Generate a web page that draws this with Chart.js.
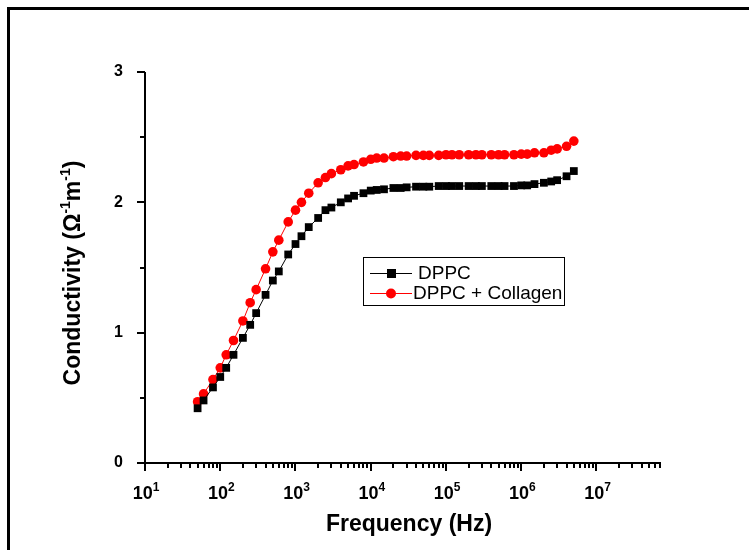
<!DOCTYPE html>
<html>
<head>
<meta charset="utf-8">
<script src="https://cdn.jsdelivr.net/npm/chart.js@4.4.1/dist/chart.umd.min.js"></script>
<style>
  html, body { margin: 0; padding: 0; background: #fff; }
</style>
</head>
<body>
<canvas id="myChart" width="749" height="550"></canvas>
<script>
// frequencies in Hz
const freq = [50, 60, 80,
  100, 120, 150, 200, 250, 300, 400, 500, 600, 800,
  1e3, 1.2e3, 1.5e3, 2e3, 2.5e3, 3e3, 4e3, 5e3, 6e3, 8e3,
  1e4, 1.2e4, 1.5e4, 2e4, 2.5e4, 3e4, 4e4, 5e4, 6e4, 8e4,
  1e5, 1.2e5, 1.5e5, 2e5, 2.5e5, 3e5, 4e5, 5e5, 6e5, 8e5,
  1e6, 1.2e6, 1.5e6, 2e6, 2.5e6, 3e6, 4e6, 5e6];
const dppc = [0.42, 0.48, 0.58,
  0.66, 0.73, 0.83, 0.96, 1.06, 1.15, 1.29, 1.40, 1.47, 1.60,
  1.68, 1.74, 1.81, 1.88, 1.94, 1.96, 2.00, 2.03, 2.05, 2.07,
  2.09, 2.095, 2.10, 2.11, 2.11, 2.115, 2.12, 2.12, 2.12, 2.125,
  2.125, 2.125, 2.125, 2.125, 2.125, 2.125, 2.125, 2.125, 2.125, 2.125,
  2.13, 2.13, 2.14, 2.15, 2.16, 2.17, 2.20, 2.24];
const dppcCollagen = [0.47, 0.53, 0.64,
  0.73, 0.83, 0.94, 1.09, 1.23, 1.33, 1.49, 1.62, 1.71, 1.85,
  1.94, 2.00, 2.07, 2.15, 2.19, 2.22, 2.25, 2.28, 2.29, 2.31,
  2.33, 2.34, 2.34, 2.35, 2.355, 2.355, 2.36, 2.36, 2.36, 2.36,
  2.365, 2.365, 2.365, 2.365, 2.365, 2.365, 2.365, 2.365, 2.365, 2.365,
  2.37, 2.37, 2.38, 2.38, 2.40, 2.41, 2.43, 2.47];
const yTicks = [0, 1, 2, 3];
const yMinor = [0.5, 1.5, 2.5];
const xDecades = [1, 2, 3, 4, 5, 6, 7];
const seriesNames = ['DPPC', 'DPPC + Collagen'];

const FONT = '"Liberation Sans", Arial, sans-serif';

// draws a run of [text, size, raise] pieces starting at x
function drawRuns(ctx, runs, x, y) {
  runs.forEach(r => {
    ctx.font = 'bold ' + r[1] + 'px ' + FONT;
    ctx.fillText(r[0], x, y - r[2]);
    x += ctx.measureText(r[0]).width;
  });
}
function runsWidth(ctx, runs) {
  let w = 0;
  runs.forEach(r => { ctx.font = 'bold ' + r[1] + 'px ' + FONT; w += ctx.measureText(r[0]).width; });
  return w;
}

const axesPlugin = {
  id: 'axesPlugin',
  beforeDatasetsDraw(chart) {
    const { ctx, chartArea: a, scales: { x, y } } = chart;
    ctx.save();
    ctx.strokeStyle = '#000';
    ctx.fillStyle = '#000';
    // outer frame (left and top only visible)
    ctx.lineWidth = 3;
    ctx.beginPath();
    ctx.moveTo(8.5, 550); ctx.lineTo(8.5, 8.5); ctx.lineTo(749, 8.5);
    ctx.stroke();

    ctx.lineWidth = 2;
    const left = Math.round(a.left), bottom = Math.round(a.bottom);
    ctx.beginPath();
    ctx.moveTo(left, a.top); ctx.lineTo(left, bottom);
    ctx.moveTo(left, bottom); ctx.lineTo(a.right, bottom);
    ctx.stroke();

    // y ticks
    ctx.beginPath();
    yTicks.forEach(v => { const py = Math.round(y.getPixelForValue(v)); ctx.moveTo(left - 8, py); ctx.lineTo(left, py); });
    yMinor.forEach(v => { const py = Math.round(y.getPixelForValue(v)); ctx.moveTo(left - 5, py); ctx.lineTo(left, py); });
    ctx.stroke();
    ctx.font = 'bold 16px ' + FONT;
    ctx.textAlign = 'right';
    ctx.textBaseline = 'middle';
    yTicks.forEach(v => ctx.fillText(String(v), left - 22, y.getPixelForValue(v)));

    // x ticks (log)
    ctx.beginPath();
    for (let d = 1; d <= 8; d++) {
      for (let m = 1; m <= 9; m++) {
        const v = m * Math.pow(10, d);
        if (v > x.max) break;
        const px = Math.round(x.getPixelForValue(v));
        ctx.moveTo(px, bottom); ctx.lineTo(px, bottom + (m === 1 ? 8 : 5));
      }
    }
    ctx.stroke();
    ctx.textAlign = 'left';
    ctx.textBaseline = 'alphabetic';
    xDecades.forEach(d => {
      const runs = [['10', 18, 0], [String(d), 12, 8]];
      const w = runsWidth(ctx, runs);
      drawRuns(ctx, runs, x.getPixelForValue(Math.pow(10, d)) - w / 2 + 1, 499);
    });

    // x title
    ctx.font = 'bold 23px ' + FONT;
    ctx.textAlign = 'center';
    ctx.fillText('Frequency (Hz)', 409, 531);

    // y title, rotated
    ctx.save();
    ctx.translate(80, 273);
    ctx.rotate(-Math.PI / 2);
    ctx.textAlign = 'left';
    const yRuns = [['Conductivity (\u03A9', 23, 0], ['-1', 14, 10], ['m', 23, 0], ['-1', 14, 10], [')', 23, 0]];
    drawRuns(ctx, yRuns, -runsWidth(ctx, yRuns) / 2, 0);
    ctx.restore();
    ctx.restore();
  },
  afterDraw(chart) {
    const ctx = chart.ctx;
    ctx.save();
    ctx.strokeStyle = '#000';
    ctx.lineWidth = 1;
    ctx.strokeRect(363.5, 257.5, 201, 48);
    const rows = [
      { y: 273, color: '#000', style: 'rect', textX: 418 },
      { y: 293, color: '#ff0000', style: 'circle', textX: 413 }
    ];
    rows.forEach((r, i) => {
      ctx.strokeStyle = r.color;
      ctx.fillStyle = r.color;
      ctx.beginPath(); ctx.moveTo(370, r.y + 0.5); ctx.lineTo(412, r.y + 0.5); ctx.stroke();
      if (r.style === 'rect') {
        ctx.fillRect(387, r.y - 4, 9, 9);
      } else {
        ctx.beginPath(); ctx.arc(391, r.y + 0.5, 5, 0, Math.PI * 2); ctx.fill();
      }
      ctx.fillStyle = '#000';
      ctx.font = '19px ' + FONT;
      ctx.textAlign = 'left';
      ctx.textBaseline = 'middle';
      ctx.fillText(seriesNames[i], r.textX, r.y + 1);
    });
    ctx.restore();
  }
};

new Chart(document.getElementById('myChart'), {
  type: 'scatter',
  data: {
    datasets: [
      {
        label: seriesNames[0],
        data: freq.map((f, i) => ({ x: f, y: dppc[i] })),
        showLine: true,
        borderColor: '#000',
        backgroundColor: '#000',
        borderWidth: 1,
        pointStyle: 'rect',
        pointRadius: 5.5,
        pointBorderWidth: 0,
        clip: false
      },
      {
        label: seriesNames[1],
        data: freq.map((f, i) => ({ x: f, y: dppcCollagen[i] })),
        showLine: true,
        borderColor: '#ff0000',
        backgroundColor: '#ff0000',
        borderWidth: 1,
        pointStyle: 'circle',
        pointRadius: 4.8,
        pointBorderWidth: 0,
        clip: false
      }
    ]
  },
  options: {
    responsive: false,
    animation: false,
    devicePixelRatio: 1,
    layout: { padding: { left: 145, right: 88, top: 72, bottom: 87 } },
    scales: {
      x: { type: 'logarithmic', min: 10, max: 7.2e7, display: false },
      y: { type: 'linear', min: 0, max: 3, display: false }
    },
    plugins: {
      legend: { display: false },
      tooltip: { enabled: false }
    }
  },
  plugins: [axesPlugin]
});
</script>
</body>
</html>
